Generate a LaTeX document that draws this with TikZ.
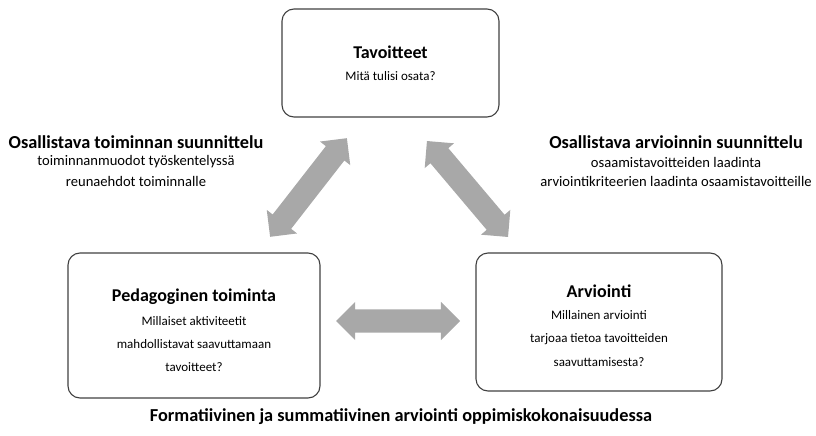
\documentclass[tikz,border=0pt]{standalone}
\usepackage{fontspec}
\setmainfont{Carlito}
\usetikzlibrary{shapes.arrows}
\begin{document}
\begin{tikzpicture}[x=1pt,y=-1pt,
  box/.style={draw=black!75,line width=1.1pt,rounded corners=12pt},
  ttl/.style={font=\bfseries\fontsize{18}{21}\selectfont,inner sep=0pt,anchor=center},
  sub/.style={font=\fontsize{13}{15}\selectfont,inner sep=0pt,anchor=center},
  lbl/.style={font=\bfseries\fontsize{18.3}{21}\selectfont,inner sep=0pt,anchor=center},
  lsub/.style={font=\fontsize{14.6}{17}\selectfont,inner sep=0pt,anchor=center},
  darr/.style={double arrow,fill=black!34,draw=none,inner xsep=0pt,inner ysep=11.5pt,
    double arrow head extend=7.5pt,double arrow tip angle=90,
    anchor=center}]
\useasboundingbox (0,0) rectangle (816,436);
% boxes
\draw[box] (282,9) rectangle (499,117);
\draw[box] (68,253) rectangle (320,398);
\draw[box] (476,253) rectangle (722,391);
% top box text
\node[ttl] (t1) at (390.5,52) {Tavoitteet};
\node[sub] (t2) at (390.5,76) {Mitä tulisi osata?};
% left box text
\node[ttl] (p1) at (194,297) {Pedagoginen toiminta};
\node[sub] (p2) at (194,321) {Millaiset aktiviteetit};
\node[sub] (p3) at (194,344) {mahdollistavat saavuttamaan};
\node[sub] (p4) at (194,367) {tavoitteet?};
% right box text
\node[ttl] (a1) at (599,291) {Arviointi};
\node[sub] (a2) at (599,315) {Millainen arviointi};
\node[sub] (a3) at (599,339) {tarjoaa tietoa tavoitteiden};
\node[sub] (a4) at (599,362) {saavuttamisesta?};
% side labels
\node[lbl] (l1) at (136,142) {Osallistava toiminnan suunnittelu};
\node[lsub] (l2) at (136,162) {toiminnanmuodot työskentelyssä};
\node[lsub] (l3) at (136,181) {reunaehdot toiminnalle};
\node[lbl] (r1) at (676,142) {Osallistava arvioinnin suunnittelu};
\node[lsub] (r2) at (676,162) {osaamistavoitteiden laadinta};
\node[lsub] (r3) at (676,181) {arviointikriteerien laadinta osaamistavoitteille};
% bottom
\node[lbl] (b1) at (401,417) {Formatiivinen ja summatiivinen arviointi oppimiskokonaisuudessa};
% arrows
\node[darr,minimum height=124pt] (h) at (398,321) {};
\node[darr,minimum height=125pt,rotate=52.1] (dl) at (308.5,187.5) {};
\node[darr,minimum height=125.6pt,rotate=-49.8] (dr) at (467.5,189) {};
\end{tikzpicture}
\end{document}
